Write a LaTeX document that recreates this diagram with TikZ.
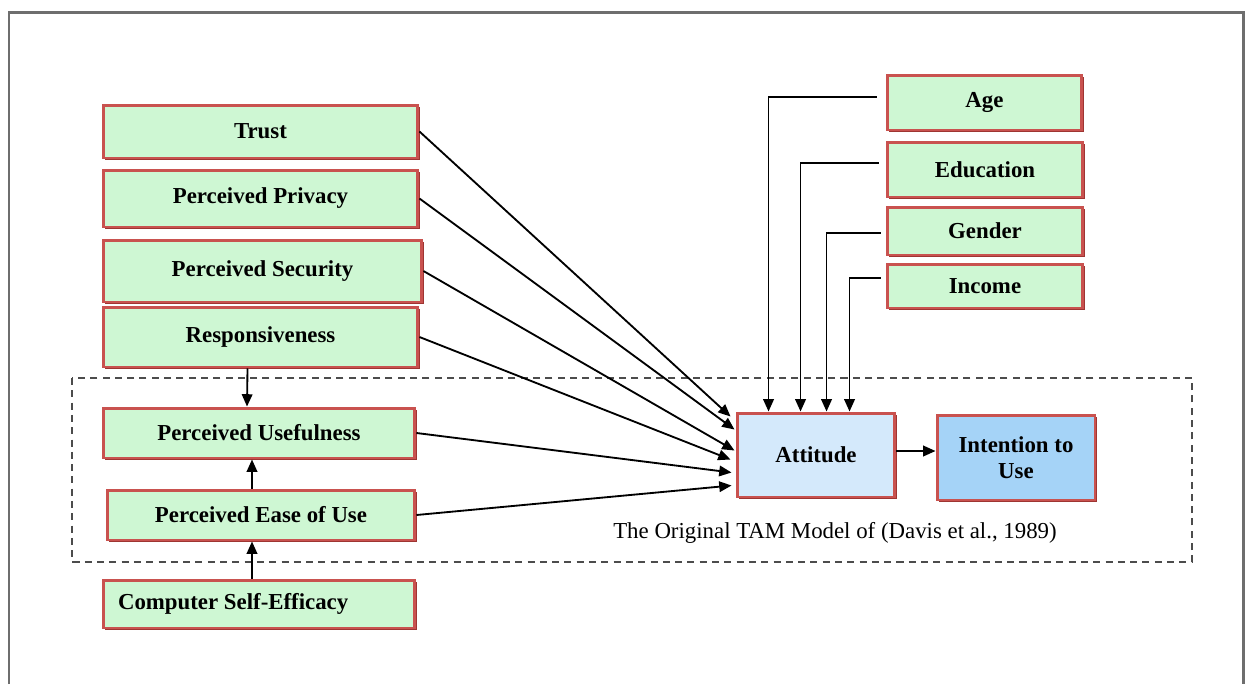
\documentclass[tikz,border=0pt]{standalone}
\usepackage{fontspec}
\setmainfont{Liberation Serif}
\usetikzlibrary{calc,arrows.meta,shadows}
\definecolor{boxgreen}{HTML}{CEF7D3}
\definecolor{boxred}{HTML}{C9524F}
\definecolor{shadred}{HTML}{9E3532}
\definecolor{attblue}{HTML}{D4E9FB}
\definecolor{intblue}{HTML}{A5D3F7}
\definecolor{framegray}{HTML}{6E6E6E}
\tikzset{
  gbox/.style={draw=boxred, line width=1.7pt, fill=boxgreen, rectangle,
    general shadow={fill=shadred, shadow xshift=1.4pt, shadow yshift=-1.4pt},
    font=\fontsize{13}{15}\selectfont\bfseries, inner sep=2pt, align=center},
  arr/.style={draw=black, line width=1.05pt, -{Triangle[length=7pt,width=6pt]}},
}
\begin{document}
\begin{tikzpicture}[x=0.02cm,y=-0.02cm]
\useasboundingbox (0,0) rectangle (1245,684);
% outer frame
\draw[framegray, line width=1.3pt] (9,684) -- (9,12.5) -- (1243.5,12.5) -- (1243.5,684);
% dashed TAM region
\draw[black!70, line width=0.9pt, dash pattern=on 4pt off 3pt] (72,378) rectangle (1192,562);
\node[font=\fontsize{13}{15}\selectfont] (cap) at (835,533) {The Original TAM Model of (Davis et al., 1989)};

% left boxes
\node[gbox, minimum width=6.3cm, minimum height=1.06cm] (trust) at (260.5,131.5) {Trust};
\node[gbox, minimum width=6.3cm, minimum height=1.14cm] (priv) at (260.5,198.5) {Perceived Privacy};
\node[gbox, minimum width=6.38cm, minimum height=1.24cm] (sec) at (262.5,271) {Perceived Security};
\node[gbox, minimum width=6.3cm, minimum height=1.2cm] (resp) at (260.5,337) {Responsiveness};
\node[gbox, minimum width=6.24cm, minimum height=1.0cm] (pu) at (259,433) {Perceived Usefulness};
\node[gbox, minimum width=6.16cm, minimum height=1.0cm] (peou) at (261,515) {Perceived Ease of Use};
\node[gbox, minimum width=6.24cm, minimum height=0.96cm] (cse) at (259,604) {\makebox[5.64cm][l]{Computer Self-Efficacy}};

% moderator boxes
\node[gbox, minimum width=3.9cm, minimum height=1.1cm] (age) at (984.5,102.5) {Age};
\node[gbox, minimum width=3.92cm, minimum height=1.1cm] (edu) at (985,169.5) {Education};
\node[gbox, minimum width=3.92cm, minimum height=0.96cm] (gen) at (985,231) {Gender};
\node[gbox, minimum width=3.92cm, minimum height=0.88cm] (inc) at (985,286) {Income};

% TAM core
\node[gbox, fill=attblue, minimum width=3.16cm, minimum height=1.68cm] (att) at (816,455) {Attitude};
\node[gbox, fill=intblue, minimum width=3.16cm, minimum height=1.7cm] (int) at (1016,457.5) {Intention to\\Use};

% arrows to Attitude
\draw[arr] (trust.east) -- ($(att.north west)+(-5,5)$);
\draw[arr] (priv.east) -- ($(att.north west)+(-1,18)$);
\draw[arr] (sec.east) -- ($(att.north west)+(-1,39)$);
\draw[arr] (resp.east) -- ($(att.north west)+(-5,48)$);
\draw[arr] (pu.east) -- ($(att.north west)+(-4,61)$);
\draw[arr] (peou.east) -- ($(att.north west)+(-4,74)$);

% vertical arrows on the left
\draw[arr] ($(resp.south)+(-13,0)$) -- ($(pu.north)+(-12,0)$);
\draw[arr] ($(peou.north)+(-9,0)$) -- ($(pu.south)+(-7,0)$);
\draw[arr] ($(cse.north)+(-7,0)$) -- ($(peou.south)+(-9,0)$);

% moderators
\draw[arr] ($(age.west)+(-9,-5.5)$) -| ($(att.north west)+(33,0)$);
\draw[arr] ($(edu.west)+(-7,-6.5)$) -| ($(att.north west)+(65,0)$);
\draw[arr] ($(gen.west)+(-5,2)$) -| ($(att.north west)+(91,0)$);
\draw[arr] ($(inc.west)+(-5,-8)$) -| ($(att.north west)+(114,0)$);

% attitude to intention
\draw[arr] ($(att.east)+(0,-4)$) -- ($(int.west)+(0,-6.5)$);
\end{tikzpicture}
\end{document}
